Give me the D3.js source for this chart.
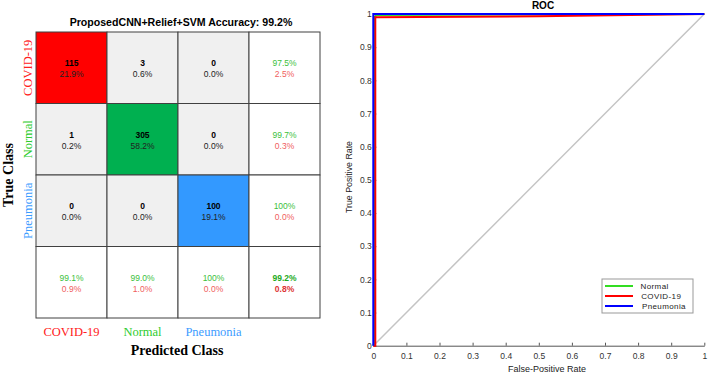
<!DOCTYPE html>
<html>
<head>
<meta charset="utf-8">
<script src="https://cdn.jsdelivr.net/npm/d3@7"></script>
<style>
  body { margin: 0; background: #fff; }
  text { font-family: "Liberation Sans", Arial, sans-serif; }
  .serif { font-family: "Liberation Serif", "Times New Roman", serif; }
</style>
</head>
<body>
<div id="chart"></div>
<script>
// ---- confusion matrix data ----
const classes = ["COVID-19", "Normal", "Pneumonia"];
const classColors = ["#ff0000", "#00b050", "#3399ff"];
const labelColors = ["#ff2020", "#2ecc2e", "#3c9cff"];
const counts = [
  [115, 3, 0],
  [1, 305, 0],
  [0, 0, 100]
];
const cellPct = [
  ["21.9%", "0.6%", "0.0%"],
  ["0.2%", "58.2%", "0.0%"],
  ["0.0%", "0.0%", "19.1%"]
];
const rowCorrect = ["97.5%", "99.7%", "100%"];
const rowWrong = ["2.5%", "0.3%", "0.0%"];
const colCorrect = ["99.1%", "99.0%", "100%"];
const colWrong = ["0.9%", "1.0%", "0.0%"];
const overall = ["99.2%", "0.8%"];

// ---- ROC data ----
const rocTicks = [0, 0.1, 0.2, 0.3, 0.4, 0.5, 0.6, 0.7, 0.8, 0.9, 1];
const rocNames = ["Normal", "COVID-19", "Pneumonia"];
const rocColors = ["#33dd22", "#ff0000", "#0000ff"];
const normalFpr = [0, 0.003, 0.003, 0.01, 1];
const normalTpr = [0, 0.01, 0.99, 0.997, 1];
const covidFpr = [0, 0.006, 0.006, 0.5, 1];
const covidTpr = [0, 0, 0.99, 0.993, 1];
const pneuFpr = [0, 0, 1];
const pneuTpr = [0, 1, 1];
const diagFpr = [0, 1];
const diagTpr = [0, 1];

const W = 709, H = 374;
const svg = d3.select("#chart").append("svg")
  .attr("width", W).attr("height", H);

// ================= Confusion matrix =================
const idx = [0, 1, 2, 3];
const cx = d3.scaleBand().domain(idx).range([36, 320]);
const cy = d3.scaleBand().domain(idx).range([32, 318]);

const cm = svg.append("g");

cm.append("text")
  .attr("x", 181).attr("y", 26)
  .attr("text-anchor", "middle")
  .attr("font-size", 10.6).attr("font-weight", "bold")
  .text("ProposedCNN+Relief+SVM Accuracy: 99.2%");

const cells = [];
idx.forEach(r => idx.forEach(c => cells.push({ r, c })));

cm.selectAll("rect.cell")
  .data(cells)
  .join("rect")
  .attr("class", "cell")
  .attr("x", d => cx(d.c)).attr("y", d => cy(d.r))
  .attr("width", cx.bandwidth()).attr("height", cy.bandwidth())
  .attr("fill", d => {
    if (d.r === 3 || d.c === 3) return "#ffffff";
    if (d.r === d.c) return classColors[d.r];
    return "#f0f0f0";
  })
  .attr("stroke", "#404040").attr("stroke-width", 1);

const mid = d => cy(d.r) + cy.bandwidth() / 2;
const cen = d => cx(d.c) + cx.bandwidth() / 2;

cells.forEach(d => {
  let top, bot, topCol = "#000", botCol = "#222", topBold = false, botBold = false;
  if (d.r < 3 && d.c < 3) {
    top = counts[d.r][d.c]; bot = cellPct[d.r][d.c];
    topBold = true;
  } else if (d.r < 3 && d.c === 3) {
    top = rowCorrect[d.r]; bot = rowWrong[d.r];
    topCol = "#3cbf3c"; botCol = "#f06060";
  } else if (d.r === 3 && d.c < 3) {
    top = colCorrect[d.c]; bot = colWrong[d.c];
    topCol = "#3cbf3c"; botCol = "#f06060";
  } else {
    top = overall[0]; bot = overall[1];
    topCol = "#22aa22"; botCol = "#dd3333"; topBold = botBold = true;
  }
  cm.append("text")
    .attr("x", cen(d)).attr("y", mid(d) - 1.5)
    .attr("text-anchor", "middle").attr("font-size", 8.5)
    .attr("font-weight", topBold ? "bold" : "normal")
    .attr("fill", topCol).text(top);
  cm.append("text")
    .attr("x", cen(d)).attr("y", mid(d) + 9.5)
    .attr("text-anchor", "middle").attr("font-size", 8.5)
    .attr("font-weight", botBold ? "bold" : "normal")
    .attr("fill", botCol).text(bot);
});

// column labels
cm.selectAll("text.collab")
  .data(classes)
  .join("text")
  .attr("class", "collab serif")
  .attr("x", (d, i) => cx(i) + cx.bandwidth() / 2)
  .attr("y", 336)
  .attr("text-anchor", "middle").attr("font-size", 12.5)
  .attr("fill", (d, i) => labelColors[i])
  .text(d => d);

// row labels
cm.selectAll("text.rowlab")
  .data(classes)
  .join("text")
  .attr("class", "rowlab serif")
  .attr("transform", (d, i) => `translate(32,${cy(i) + cy.bandwidth() / 2}) rotate(-90)`)
  .attr("text-anchor", "middle").attr("font-size", 12.5)
  .attr("fill", (d, i) => labelColors[i])
  .text(d => d);

cm.append("text")
  .attr("class", "serif")
  .attr("x", 177).attr("y", 355)
  .attr("text-anchor", "middle").attr("font-size", 14).attr("font-weight", "bold")
  .text("Predicted Class");

cm.append("text")
  .attr("class", "serif")
  .attr("transform", "translate(13,175) rotate(-90)")
  .attr("text-anchor", "middle").attr("font-size", 14).attr("font-weight", "bold")
  .text("True Class");

// ================= ROC =================
const x = d3.scaleLinear().domain([0, 1]).range([373.3, 704.3]);
const y = d3.scaleLinear().domain([0, 1]).range([345.7, 14]);

const roc = svg.append("g");

const xAxis = roc.append("g")
  .attr("transform", `translate(0,${y(0)})`)
  .call(d3.axisBottom(x).tickValues(rocTicks).tickFormat(d => String(d))
    .tickSizeInner(-3).tickSizeOuter(0).tickPadding(7.5));
const yAxis = roc.append("g")
  .attr("transform", `translate(${x(0)},0)`)
  .call(d3.axisLeft(y).tickValues(rocTicks).tickFormat(d => String(d))
    .tickSizeInner(-3).tickSizeOuter(0).tickPadding(1.5));

[xAxis, yAxis].forEach(a => {
  a.select(".domain").attr("stroke", "#555");
  a.selectAll(".tick line").attr("stroke", "#555");
  a.selectAll(".tick text").attr("font-size", 8.5).attr("fill", "#333")
    .attr("font-family", "Liberation Sans, Arial, sans-serif");
});

const line = d3.line().x(d => x(d[0])).y(d => y(d[1]));
const zip = (a, b) => a.map((v, i) => [v, b[i]]);

roc.append("path")
  .datum(zip(diagFpr, diagTpr))
  .attr("fill", "none").attr("stroke", "#c4c4c4").attr("stroke-width", 1.5)
  .attr("d", line);

const series = [zip(normalFpr, normalTpr), zip(covidFpr, covidTpr), zip(pneuFpr, pneuTpr)];
roc.selectAll("path.roc")
  .data(series)
  .join("path")
  .attr("class", "roc")
  .attr("fill", "none")
  .attr("stroke", (d, i) => rocColors[i])
  .attr("stroke-width", 2)
  .attr("d", line);

roc.append("text")
  .attr("x", 543).attr("y", 9)
  .attr("text-anchor", "middle").attr("font-size", 10).attr("font-weight", "bold")
  .text("ROC");

roc.append("text")
  .attr("x", 547).attr("y", 372)
  .attr("text-anchor", "middle").attr("font-size", 9).attr("fill", "#222")
  .text("False-Positive Rate");

roc.append("text")
  .attr("transform", "translate(352,177) rotate(-90)")
  .attr("text-anchor", "middle").attr("font-size", 8.8).attr("fill", "#222")
  .text("True Positive Rate");

// legend
const lg = roc.append("g").attr("transform", "translate(602,279)");
lg.append("rect")
  .attr("width", 91).attr("height", 34)
  .attr("fill", "#fff").attr("stroke", "#999");
const ly = d3.scalePoint().domain(rocNames).range([7, 27]);
lg.selectAll("line")
  .data(rocNames)
  .join("line")
  .attr("x1", 3).attr("x2", 31)
  .attr("y1", d => ly(d)).attr("y2", d => ly(d))
  .attr("stroke", (d, i) => rocColors[i]).attr("stroke-width", 2);
lg.selectAll("text")
  .data(rocNames)
  .join("text")
  .attr("x", (d, i) => 38.5 + i * 0.7)
  .attr("y", d => ly(d) + 3)
  .attr("font-size", 8).attr("letter-spacing", 0.4).attr("fill", "#222")
  .text(d => d);
</script>
</body>
</html>
